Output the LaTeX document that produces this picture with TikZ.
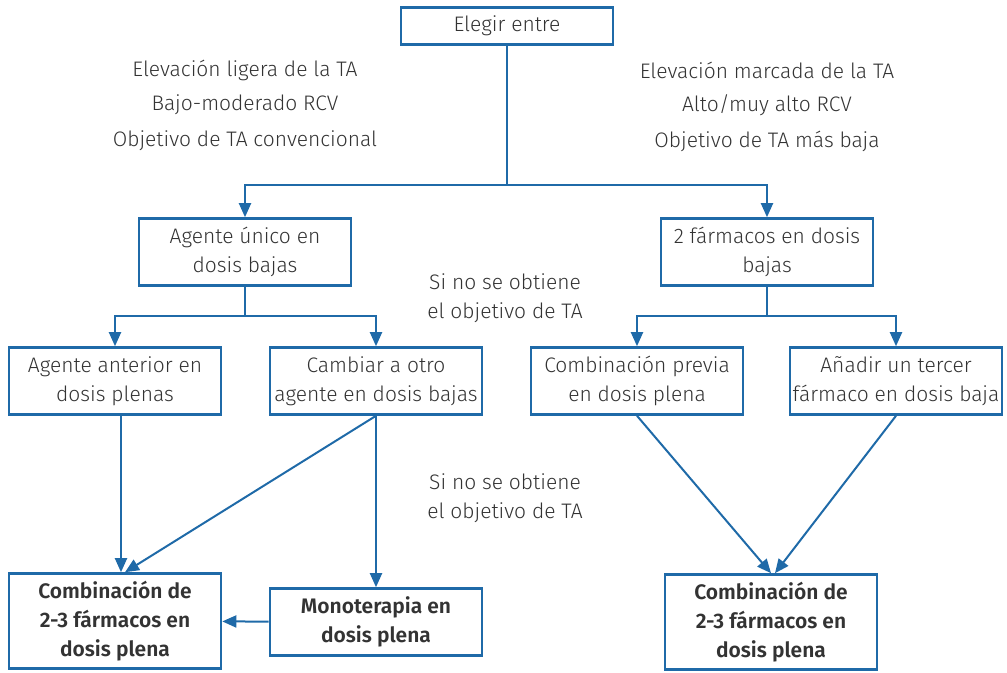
\documentclass[tikz,border=0pt]{standalone}
\usepackage{fontspec}
\setmainfont{Fira Sans Light}[BoldFont={Fira Sans SemiBold}]
\usepackage{xcolor}
\usepackage{tikz}
\usetikzlibrary{arrows.meta,positioning}
\definecolor{linecol}{HTML}{1F6AA8}
\definecolor{textcol}{HTML}{333333}

\begin{document}
\begin{tikzpicture}[x=0.5pt, y=-0.5pt,
  box/.style={draw=linecol, line width=1.3pt, minimum width=106pt, minimum height=33.5pt, align=center, inner sep=1pt, font=\fontsize{10.5}{14.5}\selectfont, text=textcol},
  bigbox/.style={box, minimum height=47.5pt, font=\fontsize{10.5}{14.5}\selectfont\bfseries},
  note/.style={align=center, font=\fontsize{10.5}{14.5}\selectfont, text=textcol},
  arr/.style={-{Triangle[length=7pt, width=6pt]}, line width=1pt, linecol},
  ln/.style={line width=1pt, linecol}
]
  \useasboundingbox (0,0) rectangle (1007,673);

  \node[box, minimum height=18.5pt] (choose) at (507,26) {Elegir entre};

  \node[note] (mildA) at (245,70) {Elevación ligera de la TA};
  \node[note] (mildB) at (245,105) {Bajo-moderado RCV};
  \node[note] (mildC) at (245,141) {Objetivo de TA convencional};
  \node[note] (highA) at (767,70) {Elevación marcada de la TA};
  \node[note] (highB) at (767,105) {Alto/muy alto RCV};
  \node[note] (highC) at (767,141) {Objetivo de TA más baja};

  \node[box] (single) at (245,252) {Agente único en\\dosis bajas};
  \node[box] (dual) at (767,252) {2 fármacos en dosis\\bajas};

  \node[box] (fullold) at (115,381) {Agente anterior en\\dosis plenas};
  \node[box] (switch) at (376,381) {Cambiar a otro\\agente en dosis bajas};
  \node[box] (prevcomb) at (637,381) {Combinación previa\\en dosis plena};
  \node[box] (third) at (896,381) {Añadir un tercer\\fármaco en dosis baja};

  \node[note] (failA) at (505,298) {Si no se obtiene\\el objetivo de TA};
  \node[note] (failB) at (505,498) {Si no se obtiene\\el objetivo de TA};

  \node[bigbox] (combL) at (115,621) {Combinación de\\2-3 fármacos en\\dosis plena};
  \node[box] (mono) at (376,622) {\bfseries Monoterapia en\\\bfseries dosis plena};
  \node[bigbox] (combR) at (771,622) {Combinación de\\2-3 fármacos en\\dosis plena};

  \coordinate (split) at (507,185);
  \coordinate (splitL) at (245,316);
  \coordinate (splitR) at (767,316);

  \draw[ln] (choose) -- (split);
  \draw[arr] (split) -| (single);
  \draw[arr] (split) -| (dual);

  \draw[ln] (single) -- (splitL);
  \draw[arr] (splitL) -| (fullold);
  \draw[arr] (splitL) -| (switch);

  \draw[ln] (dual) -- (splitR);
  \draw[arr] (splitR) -| (prevcomb);
  \draw[arr] (splitR) -| (third);

  \draw[arr] ([xshift=3pt]fullold.south) -- ([xshift=3pt]combL.north);
  \draw[arr] (switch.south) -- ([xshift=5pt]combL.north);
  \draw[arr] (switch) -- (mono);
  \draw[arr] (mono) -- (combL);

  \draw[arr] (prevcomb.south) -- (combR.north);
  \draw[arr] (third.south) -- ([xshift=2pt]combR.north);
\end{tikzpicture}
\end{document}
